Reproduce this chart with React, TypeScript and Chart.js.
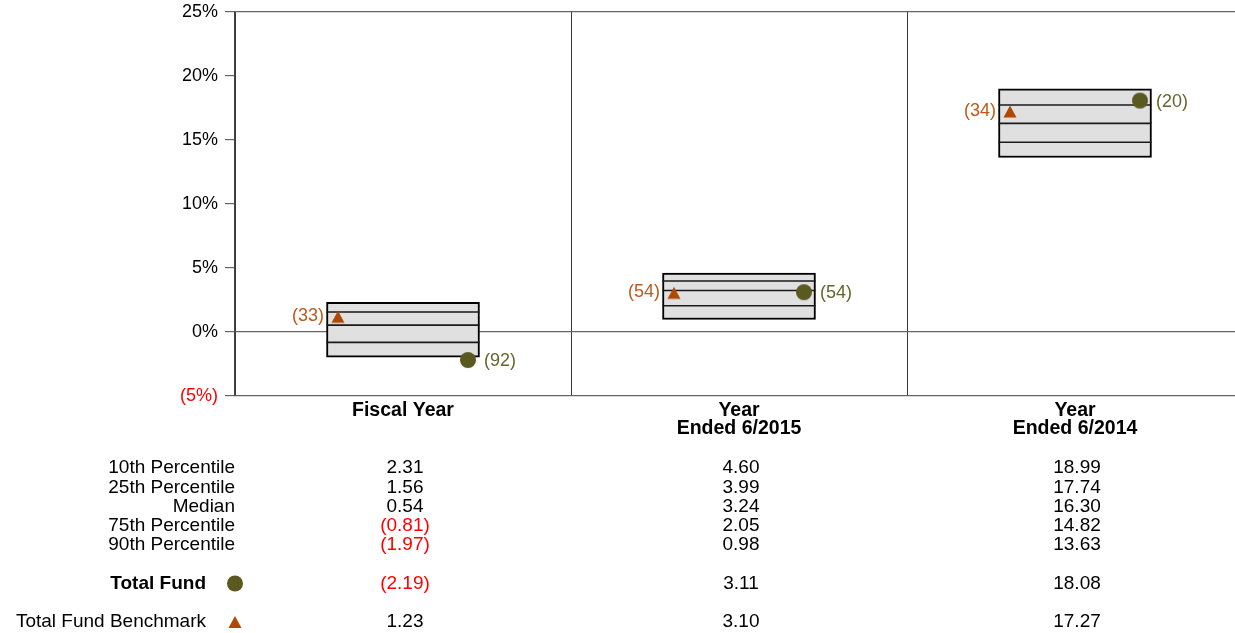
import React, { useEffect, useRef } from "react";
import { Chart, registerables } from "chart.js";

Chart.register(...registerables);

const categories: string[][] = [["Fiscal Year"], ["Year", "Ended 6/2015"], ["Year", "Ended 6/2014"]];
const p10 = [2.31, 4.6, 18.99];
const p25 = [1.56, 3.99, 17.74];
const median = [0.54, 3.24, 16.3];
const p75 = [-0.81, 2.05, 14.82];
const p90 = [-1.97, 0.98, 13.63];
const fund = [-2.19, 3.11, 18.08];
const bench = [1.23, 3.1, 17.27];
const fundRank = [92, 54, 20];
const benchRank = [33, 54, 34];
const yTicks = [-5, 0, 5, 10, 15, 20, 25];
const rowLabels = ["10th Percentile", "25th Percentile", "Median", "75th Percentile", "90th Percentile"];

const FONT = "'Liberation Sans', Arial, Helvetica, sans-serif";
const OLIVE = "#5a5a20";
const ORANGE = "#b04800";
const OLIVE_TXT = "#66662c";
const ORANGE_TXT = "#c05a18";
const OFF = 65;
const BOX_W = 153;

function fmt(v: number) {
  return v < 0 ? `(${Math.abs(v).toFixed(2)})` : v.toFixed(2);
}

function drawCircle(ctx: CanvasRenderingContext2D, x: number, y: number) {
  ctx.beginPath();
  ctx.arc(x, y, 8, 0, Math.PI * 2);
  ctx.fillStyle = OLIVE;
  ctx.fill();
}
function drawTri(ctx: CanvasRenderingContext2D, x: number, y: number) {
  ctx.beginPath();
  ctx.moveTo(x, y - 5.5);
  ctx.lineTo(x - 6.5, y + 6.5);
  ctx.lineTo(x + 6.5, y + 6.5);
  ctx.closePath();
  ctx.fillStyle = ORANGE;
  ctx.fill();
}

function markerImage(kind: "circle" | "tri") {
  const c = document.createElement("canvas");
  const W = 2 * (OFF + 12);
  c.width = W;
  c.height = 24;
  const ctx = c.getContext("2d")!;
  if (kind === "circle") drawCircle(ctx, W / 2 + OFF, 12);
  else drawTri(ctx, W / 2 - OFF, 12);
  return c;
}

const tablePlugin = {
  id: "tablePlugin",
  afterDatasetsDraw(chart: any) {
    const ctx = chart.ctx as CanvasRenderingContext2D;
    ctx.save();
    ctx.font = `18px ${FONT}`;
    ctx.textBaseline = "middle";
    const fMeta = chart.getDatasetMeta(4);
    fMeta.data.forEach((el: any, i: number) => {
      ctx.fillStyle = OLIVE_TXT;
      ctx.textAlign = "left";
      ctx.fillText(`(${fundRank[i]})`, el.x + OFF + 16, el.y + 1);
    });
    const bMeta = chart.getDatasetMeta(5);
    bMeta.data.forEach((el: any, i: number) => {
      ctx.fillStyle = ORANGE_TXT;
      ctx.textAlign = "right";
      ctx.fillText(`(${benchRank[i]})`, el.x - OFF - 14, el.y);
    });
    ctx.restore();
  },
  afterDraw(chart: any) {
    const ctx = chart.ctx as CanvasRenderingContext2D;
    const x = chart.scales.x;
    const left = chart.chartArea.left;
    const base = chart.chartArea.bottom;
    const rows = [p10, p25, median, p75, p90];
    ctx.save();
    ctx.textBaseline = "middle";
    ctx.font = `19px ${FONT}`;
    rows.forEach((arr, r) => {
      const y = base + 72 + r * 19.3;
      ctx.fillStyle = "#000";
      ctx.textAlign = "right";
      ctx.fillText(rowLabels[r], left, y);
      arr.forEach((v, i) => {
        ctx.textAlign = "center";
        ctx.fillStyle = v < 0 ? "#ff0000" : "#000";
        ctx.fillText(fmt(v), x.getPixelForValue(i) + 2, y);
      });
    });
    const yF = base + 187.5;
    const yB = base + 225.5;
    ctx.textAlign = "right";
    ctx.fillStyle = "#000";
    ctx.font = `bold 19px ${FONT}`;
    ctx.fillText("Total Fund", left - 29, yF);
    ctx.font = `19px ${FONT}`;
    ctx.fillText("Total Fund Benchmark", left - 29, yB);
    drawCircle(ctx, left, yF);
    drawTri(ctx, left, yB);
    [fund, bench].forEach((arr, k) => {
      const y = k === 0 ? yF : yB;
      arr.forEach((v, i) => {
        ctx.textAlign = "center";
        ctx.fillStyle = v < 0 ? "#ff0000" : "#000";
        ctx.fillText(fmt(v), x.getPixelForValue(i) + 2, y);
      });
    });
    ctx.restore();
  },
};

export default function App() {
  const ref = useRef<HTMLCanvasElement>(null);
  useEffect(() => {
    document.body.style.margin = "0";
    const lineDs = (data: number[]) => ({
      type: "line" as const,
      data,
      showLine: false,
      pointStyle: "line" as const,
      pointRadius: BOX_W / 2,
      pointHoverRadius: BOX_W / 2,
      pointBorderColor: "#1a1a1a",
      pointBorderWidth: 1.6,
      order: 2,
    });
    const chart = new Chart(ref.current!, {
      type: "bar",
      data: {
        labels: categories as any,
        datasets: [
          {
            type: "bar",
            data: p90.map((v, i) => [v, p10[i]]) as any,
            backgroundColor: "#e0e0e0",
            borderColor: "#000",
            borderWidth: 2,
            borderSkipped: false,
            barThickness: BOX_W,
            order: 3,
          } as any,
          lineDs(p25),
          lineDs(median),
          lineDs(p75),
          {
            type: "line",
            data: fund,
            showLine: false,
            pointStyle: markerImage("circle"),
            pointRadius: 8,
            order: 1,
          } as any,
          {
            type: "line",
            data: bench,
            showLine: false,
            pointStyle: markerImage("tri"),
            pointRadius: 8,
            order: 1,
          } as any,
        ],
      },
      options: {
        responsive: false,
        animation: false,
        devicePixelRatio: 1,
        layout: { autoPadding: false, padding: { left: 0, right: 17, top: 12, bottom: 0 } },
        plugins: { legend: { display: false }, tooltip: { enabled: false } },
        scales: {
          x: {
            offset: true,
            grid: { offset: true, color: "#3a3a3a", lineWidth: 1, drawTicks: false },
            border: { display: false },
            ticks: {
              font: { family: FONT, size: 19.5, weight: "bold", lineHeight: "18.5px" },
              color: "#000",
              padding: 5,
              maxRotation: 0,
            },
            afterFit: (s: any) => {
              s.height = 237;
              s.paddingLeft = 0;
              s.paddingRight = 0;
            },
          },
          y: {
            min: -5,
            max: 25,
            afterBuildTicks: (s: any) => {
              s.ticks = yTicks.map((v) => ({ value: v }));
            },
            grid: {
              color: (c: any) => ([25, 0, -5].includes(c.tick?.value) ? "#666" : "rgba(0,0,0,0)"),
              tickColor: "#666",
              tickLength: 10,
              lineWidth: 1.2,
            },
            border: { color: "#444", width: 1.2 },
            ticks: {
              font: { family: FONT, size: 18 },
              padding: 7,
              color: (c: any) => (c.tick?.value < 0 ? "#ff0000" : "#000"),
              callback: (v: any) => (v < 0 ? `(${Math.abs(v)}%)` : `${v}%`),
            },
            afterFit: (s: any) => {
              s.width = 235;
              s.paddingTop = 0;
              s.paddingBottom = 0;
            },
          },
        },
      },
      plugins: [tablePlugin],
    });
    return () => chart.destroy();
  }, []);
  return (
    <div style={{ position: "relative", width: 1235, height: 633, overflow: "hidden" }}>
      <canvas ref={ref} width={1260} height={633} style={{ position: "absolute", left: 0, top: 0 }} />
    </div>
  );
}
